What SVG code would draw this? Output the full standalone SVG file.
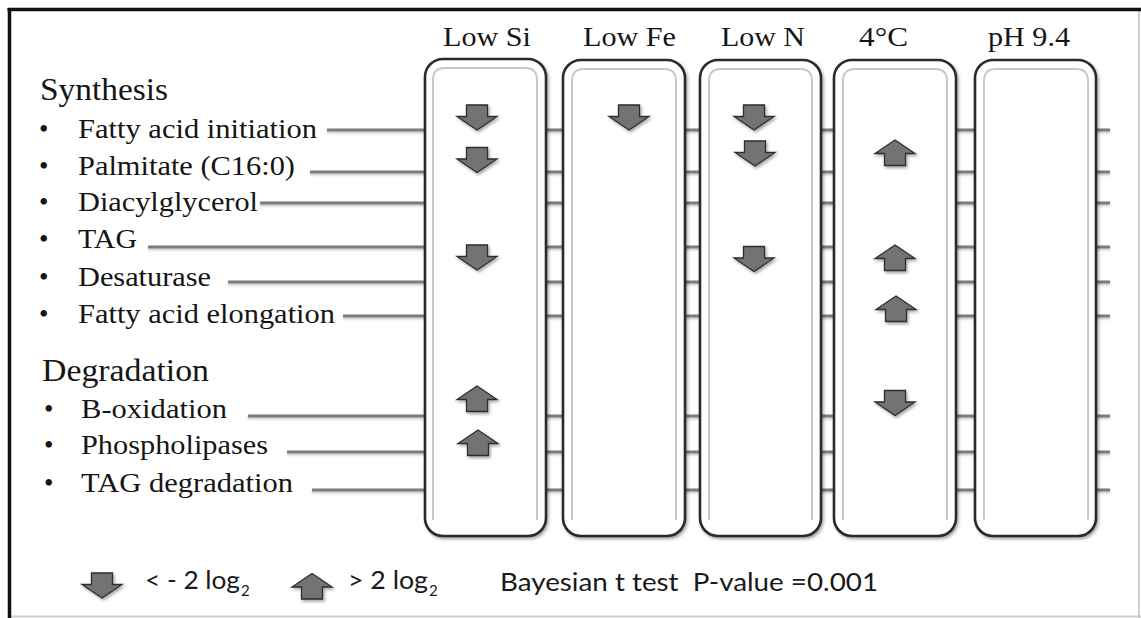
<svg xmlns="http://www.w3.org/2000/svg" width="1141" height="618" viewBox="0 0 1141 618">
  <style>
    .serif { font-family: "Liberation Serif", "Times New Roman", serif; fill: #151515; }
    .head { font-size: 31px; }
    .item { font-size: 27px; }
    .col { font-size: 27px; }
    .sans { font-family: Lato, "Liberation Sans", Arial, sans-serif; fill: #1a1a1a; font-size: 25px; }
    .sub { font-family: Lato, "Liberation Sans", Arial, sans-serif; fill: #1a1a1a; font-size: 15px; }
    .conn { stroke: #7c7c7c; stroke-width: 3; fill: none; }
    .outer { fill: #ffffff; stroke: #2b2b2b; stroke-width: 2.6; }
    .inner { fill: none; stroke: #c9c9c9; stroke-width: 2; }
    .arr { fill: #737373; stroke: #2e2e2e; stroke-width: 1.3; stroke-linejoin: miter; }
  </style>
  <defs>
    <filter id="sh" x="-20%" y="-20%" width="140%" height="140%">
      <feDropShadow dx="1.5" dy="2" stdDeviation="1.5" flood-color="#000" flood-opacity="0.35"/>
    </filter>
    <filter id="lsh" x="-5%" y="-50%" width="110%" height="300%">
      <feDropShadow dx="0" dy="1.5" stdDeviation="0.8" flood-color="#000" flood-opacity="0.25"/>
    </filter>
    <path id="dn" class="arr" d="M-10.5,0 H10.5 V11.5 H20 L0,25 L-20,11.5 H-10.5 Z"/>
    <path id="up" class="arr" d="M0,0 L20,13.5 H10.5 V25.5 H-10.5 V13.5 H-20 Z"/>
  </defs>

  <rect x="0" y="0" width="1141" height="618" fill="#ffffff"/>

  <!-- frame -->
  <g id="frame">
    <line x1="1139" y1="9" x2="1139" y2="618" stroke="#cfcfcf" stroke-width="2"/>
    <line x1="9" y1="616.5" x2="1141" y2="616.5" stroke="#cfcfcf" stroke-width="2"/>
    <line x1="7.5" y1="9.5" x2="1141" y2="9.5" stroke="#111" stroke-width="3.5"/>
    <line x1="9.5" y1="8" x2="9.5" y2="618" stroke="#111" stroke-width="3.5"/>
  </g>

  <!-- connectors -->
  <g id="connectors" filter="url(#lsh)">
    <line class="conn" x1="327" y1="130" x2="1110" y2="130"/>
    <line class="conn" x1="310" y1="172" x2="1110" y2="172"/>
    <line class="conn" x1="260" y1="203" x2="1110" y2="203"/>
    <line class="conn" x1="148" y1="247" x2="1110" y2="247"/>
    <line class="conn" x1="228" y1="282" x2="1110" y2="282"/>
    <line class="conn" x1="343" y1="316" x2="1110" y2="316"/>
    <line class="conn" x1="248" y1="416" x2="1110" y2="416"/>
    <line class="conn" x1="287" y1="452" x2="1110" y2="452"/>
    <line class="conn" x1="312" y1="490" x2="1110" y2="490"/>
  </g>

  <!-- row labels -->
  <g id="synthesis">
    <text class="serif head" x="40" y="100" textLength="128" lengthAdjust="spacingAndGlyphs">Synthesis</text>
  </g>
  <g id="row-fatty-acid-initiation">
    <text class="serif item" x="39" y="138">•</text>
    <text class="serif item" x="78" y="138" textLength="239" lengthAdjust="spacingAndGlyphs">Fatty acid initiation</text>
  </g>
  <g id="row-palmitate">
    <text class="serif item" x="39" y="175">•</text>
    <text class="serif item" x="78" y="175" textLength="217" lengthAdjust="spacingAndGlyphs">Palmitate (C16:0)</text>
  </g>
  <g id="row-diacylglycerol">
    <text class="serif item" x="39" y="211">•</text>
    <text class="serif item" x="78" y="211" textLength="180" lengthAdjust="spacingAndGlyphs">Diacylglycerol</text>
  </g>
  <g id="row-tag">
    <text class="serif item" x="39" y="248">•</text>
    <text class="serif item" x="78" y="248" textLength="59" lengthAdjust="spacingAndGlyphs">TAG</text>
  </g>
  <g id="row-desaturase">
    <text class="serif item" x="39" y="286">•</text>
    <text class="serif item" x="78" y="286" textLength="133" lengthAdjust="spacingAndGlyphs">Desaturase</text>
  </g>
  <g id="row-fatty-acid-elongation">
    <text class="serif item" x="39" y="323">•</text>
    <text class="serif item" x="78" y="323" textLength="257" lengthAdjust="spacingAndGlyphs">Fatty acid elongation</text>
  </g>
  <g id="degradation">
    <text class="serif head" x="42" y="381" textLength="167" lengthAdjust="spacingAndGlyphs">Degradation</text>
  </g>
  <g id="row-b-oxidation">
    <text class="serif item" x="44" y="418">•</text>
    <text class="serif item" x="81" y="418" textLength="146" lengthAdjust="spacingAndGlyphs">B-oxidation</text>
  </g>
  <g id="row-phospholipases">
    <text class="serif item" x="44" y="454">•</text>
    <text class="serif item" x="81" y="454" textLength="187" lengthAdjust="spacingAndGlyphs">Phospholipases</text>
  </g>
  <g id="row-tag-degradation">
    <text class="serif item" x="44" y="492">•</text>
    <text class="serif item" x="81" y="492" textLength="212" lengthAdjust="spacingAndGlyphs">TAG degradation</text>
  </g>

  <!-- columns -->
  <g id="col-low-si">
    <text class="serif col" x="443" y="46" textLength="88" lengthAdjust="spacingAndGlyphs">Low Si</text>
    <rect class="outer" x="425" y="59" width="121" height="477" rx="18" filter="url(#sh)"/>
    <path class="inner" d="M433,520 V80 Q433,68 445,68 H525 Q537,68 537,80 V520"/>
    <use href="#dn" x="477" y="105" filter="url(#sh)"/>
    <use href="#dn" x="477" y="147.5" filter="url(#sh)"/>
    <use href="#dn" x="477" y="245" filter="url(#sh)"/>
    <use href="#up" x="477" y="386" filter="url(#sh)"/>
    <use href="#up" x="478" y="430" filter="url(#sh)"/>
  </g>
  <g id="col-low-fe">
    <text class="serif col" x="583" y="46" textLength="93" lengthAdjust="spacingAndGlyphs">Low Fe</text>
    <rect class="outer" x="563" y="60" width="122" height="476" rx="18" filter="url(#sh)"/>
    <path class="inner" d="M572,520 V81 Q572,69 584,69 H664 Q676,69 676,81 V520"/>
    <use href="#dn" x="629" y="105" filter="url(#sh)"/>
  </g>
  <g id="col-low-n">
    <text class="serif col" x="721" y="46" textLength="84" lengthAdjust="spacingAndGlyphs">Low N</text>
    <rect class="outer" x="700" y="60" width="121" height="476" rx="18" filter="url(#sh)"/>
    <path class="inner" d="M709,520 V81 Q709,69 721,69 H800 Q812,69 812,81 V520"/>
    <use href="#dn" x="754" y="105" filter="url(#sh)"/>
    <use href="#dn" x="755" y="141" filter="url(#sh)"/>
    <use href="#dn" x="754" y="246.5" filter="url(#sh)"/>
  </g>
  <g id="col-4c">
    <text class="serif col" x="859" y="46" textLength="49" lengthAdjust="spacingAndGlyphs">4°C</text>
    <rect class="outer" x="834" y="60" width="122" height="476" rx="18" filter="url(#sh)"/>
    <path class="inner" d="M843,520 V81 Q843,69 855,69 H935 Q947,69 947,81 V520"/>
    <use href="#up" x="895" y="140" filter="url(#sh)"/>
    <use href="#up" x="895" y="245" filter="url(#sh)"/>
    <use href="#up" x="896" y="296" filter="url(#sh)"/>
    <use href="#dn" x="895" y="390.5" filter="url(#sh)"/>
  </g>
  <g id="col-ph">
    <text class="serif col" x="988" y="46" textLength="82" lengthAdjust="spacingAndGlyphs">pH 9.4</text>
    <rect class="outer" x="975" y="60" width="121" height="476" rx="18" filter="url(#sh)"/>
    <path class="inner" d="M984,520 V81 Q984,69 996,69 H1076 Q1088,69 1088,81 V520"/>
  </g>

  <!-- legend -->
  <g id="legend">
    <use href="#dn" x="102" y="573" filter="url(#sh)"/>
    <text class="sans" x="145" y="589" textLength="95" lengthAdjust="spacingAndGlyphs">&lt; - 2 log</text>
    <text class="sub" x="241" y="596">2</text>
    <use href="#up" x="312" y="573.5" filter="url(#sh)"/>
    <text class="sans" x="348" y="589" textLength="80" lengthAdjust="spacingAndGlyphs">&gt; 2 log</text>
    <text class="sub" x="429" y="596">2</text>
    <text class="sans" x="500" y="591" textLength="378" lengthAdjust="spacingAndGlyphs" xml:space="preserve">Bayesian t test  P-value =0.001</text>
  </g>
</svg>
